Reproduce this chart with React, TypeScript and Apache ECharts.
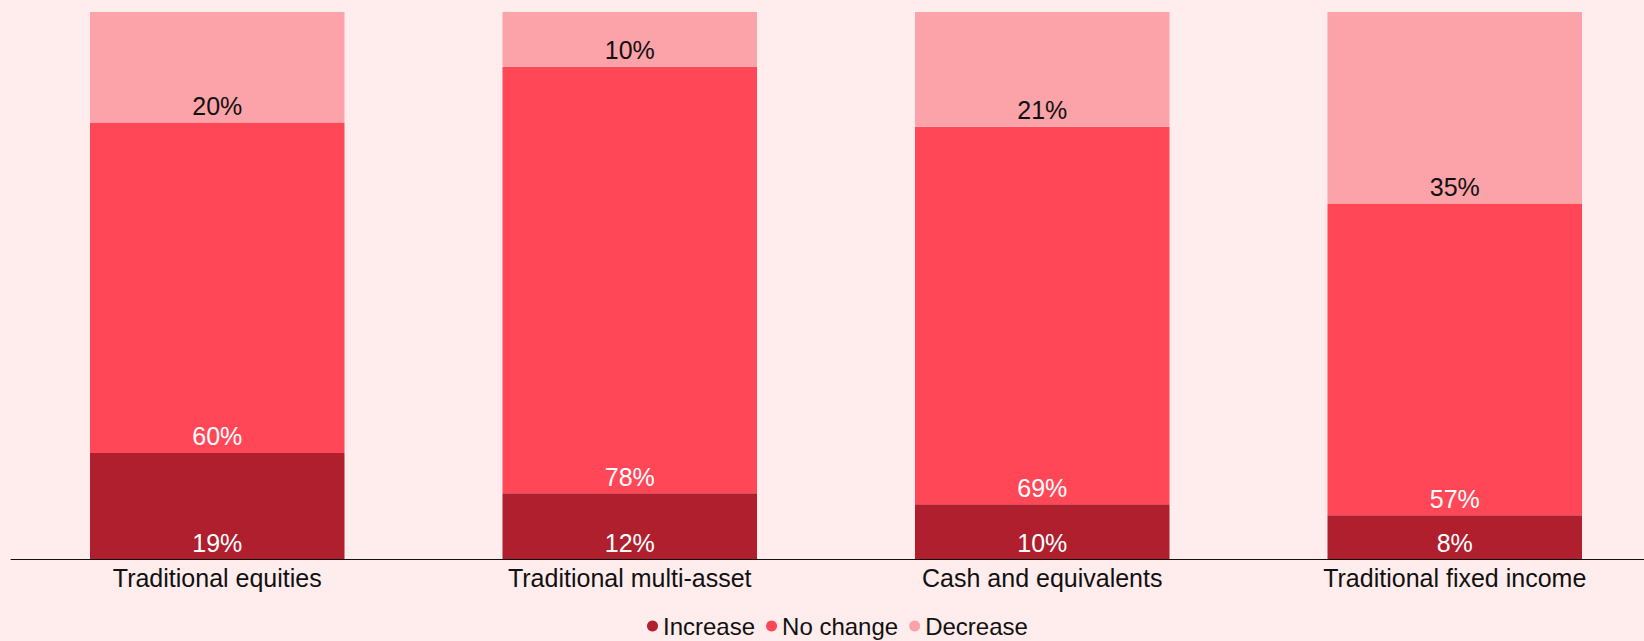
import React, { useEffect, useRef } from "react";
import * as echarts from "echarts";

const categories = [
  "Traditional equities",
  "Traditional multi-asset",
  "Cash and equivalents",
  "Traditional fixed income",
];
const increase = [19.4, 12, 10, 8];
const noChange = [60.4, 78, 69, 57];
const decrease = [20.2, 10, 21, 35];

const FONT = "'Liberation Sans', Arial, sans-serif";
const COLORS = ["#B01F2E", "#FF4757", "#FCA3A9"];

export default function App() {
  const ref = useRef<HTMLDivElement>(null);
  useEffect(() => {
    if (!ref.current) return;
    const chart = echarts.init(ref.current, null, { renderer: "svg" });
    const mk = (name: string, data: number[], color: string, labelColor: string) => ({
      name,
      type: "bar",
      stack: "total",
      data,
      barCategoryGap: "38.3%",
      itemStyle: { color },
      label: {
        show: true,
        position: "insideBottom",
        distance: 4,
        color: labelColor,
        fontSize: 25,
        fontFamily: FONT,
        formatter: (p: any) => Math.round(p.value) + "%",
      },
      emphasis: { disabled: true },
    });
    chart.setOption({
      animation: false,
      backgroundColor: "#FFECEC",
      textStyle: { fontFamily: FONT },
      grid: { left: 11, top: 12, right: 0, bottom: 82, containLabel: false },
      legend: {
        left: 642,
        top: 609,
        icon: "circle",
        itemWidth: 11,
        itemHeight: 11,
        itemGap: 11,
        textStyle: { fontSize: 24, color: "#111", fontFamily: FONT },
        data: ["Increase", "No change", "Decrease"],
        selectedMode: false,
      },
      xAxis: {
        type: "category",
        data: categories,
        axisLine: { lineStyle: { color: "#111", width: 1 } },
        axisTick: { show: false },
        axisLabel: { fontSize: 25, color: "#111", margin: 6, fontFamily: FONT },
      },
      yAxis: { type: "value", min: 0, max: 100, show: false, splitLine: { show: false } },
      series: [
        mk("Increase", increase, COLORS[0], "#FFFFFF"),
        mk("No change", noChange, COLORS[1], "#FFFFFF"),
        mk("Decrease", decrease, COLORS[2], "#111111"),
      ],
    });
    return () => chart.dispose();
  }, []);
  return (
    <div
      style={{
        position: "fixed",
        left: 0,
        top: 0,
        width: 1644,
        height: 641,
        overflow: "hidden",
        background: "#FFECEC",
      }}
    >
      <div ref={ref} style={{ width: 1661, height: 641 }} />
    </div>
  );
}
